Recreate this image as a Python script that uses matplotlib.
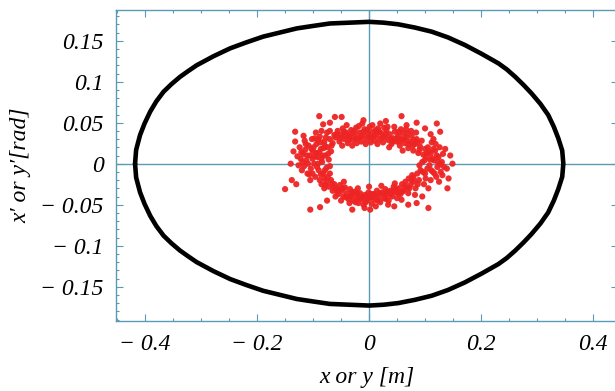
import matplotlib
matplotlib.use("Agg")
import matplotlib.pyplot as plt
from matplotlib.ticker import FixedLocator, FixedFormatter, MultipleLocator

# ---- data ----
ell_x = [-0.418, -0.416, -0.409, -0.401, -0.391, -0.380, -0.367, -0.353, -0.3375, -0.323, -0.308, -0.278,
         -0.248, -0.219, -0.189, -0.159, -0.129, -0.100, -0.070, -0.035, 0.000, 0.026, 0.052, 0.082,
         0.112, 0.141, 0.171, 0.201, 0.231, 0.246, 0.261, 0.276, 0.290, 0.306, 0.320, 0.330, 0.338,
         0.345, 0.347,
         0.345, 0.338, 0.330, 0.320, 0.306, 0.290, 0.276, 0.261, 0.246, 0.231, 0.201, 0.171, 0.141,
         0.112, 0.082, 0.052, 0.026, 0.000, -0.035, -0.070, -0.100, -0.129, -0.159, -0.189, -0.219,
         -0.248, -0.278, -0.308, -0.323, -0.3375, -0.353, -0.367, -0.380, -0.391, -0.401, -0.409,
         -0.416, -0.418]
ell_y = [0.000, 0.017, 0.035, 0.049, 0.0634, 0.076, 0.0878, 0.097, 0.106, 0.113, 0.120, 0.131,
         0.1407, 0.148, 0.155, 0.160, 0.165, 0.168, 0.171, 0.172, 0.173, 0.172, 0.170, 0.166,
         0.161, 0.154, 0.1448, 0.134, 0.1224, 0.115, 0.106, 0.096, 0.0859, 0.073, 0.0594, 0.045, 0.031,
         0.016, 0.000,
         -0.016, -0.031, -0.045, -0.0594, -0.073, -0.0859, -0.096, -0.106, -0.115, -0.1224, -0.134, -0.1448, -0.154,
         -0.161, -0.166, -0.170, -0.172, -0.173, -0.172, -0.171, -0.168, -0.165, -0.160, -0.155, -0.148,
         -0.1407, -0.131, -0.120, -0.113, -0.106, -0.097, -0.0878, -0.076, -0.0634, -0.049, -0.035,
         -0.017, 0.000]

red_pts = [
    # top band
    (-0.060, 0.032), (-0.056, 0.040), (-0.053, 0.027), (-0.050, 0.035), (-0.047, 0.043), (-0.044, 0.030),
    (-0.041, 0.038), (-0.038, 0.025), (-0.035, 0.033), (-0.032, 0.041), (-0.029, 0.029), (-0.026, 0.036),
    (-0.023, 0.044), (-0.020, 0.031), (-0.017, 0.038), (-0.014, 0.027), (-0.011, 0.034), (-0.008, 0.042),
    (-0.005, 0.030), (-0.002, 0.037), (0.001, 0.045), (0.004, 0.032), (0.007, 0.039), (0.010, 0.028),
    (0.013, 0.035), (0.016, 0.043), (0.019, 0.030), (0.022, 0.037), (0.025, 0.026), (0.028, 0.033),
    (0.031, 0.041), (0.034, 0.029), (0.037, 0.036), (0.040, 0.024), (0.043, 0.031), (0.046, 0.039),
    (0.049, 0.027), (0.052, 0.034), (0.055, 0.022), (0.058, 0.030), (0.061, 0.037), (0.064, 0.025),
    (0.067, 0.032), (0.070, 0.019), (0.073, 0.027), (0.076, 0.034), (0.079, 0.016), (0.082, 0.024),
    (0.085, 0.030), (0.088, 0.013), (0.091, 0.021), (0.094, 0.028), (0.097, 0.011), (0.100, 0.018),
    (-0.048, 0.022), (-0.040, 0.047), (-0.030, 0.022), (-0.018, 0.046), (-0.006, 0.024), (0.006, 0.047),
    (0.015, 0.024), (0.027, 0.044), (0.036, 0.020), (0.045, 0.045), (0.057, 0.042), (0.066, 0.042),
    (0.075, 0.040), (0.084, 0.038), (0.060, 0.016), (0.003, 0.026), (-0.022, 0.025), (-0.012, 0.049),
    (0.020, 0.049),
    (-0.058, 0.036), (-0.045, 0.039), (-0.036, 0.029), (-0.027, 0.040), (-0.015, 0.033), (-0.003, 0.041),
    (0.009, 0.034), (0.018, 0.039), (0.030, 0.036), (0.039, 0.030), (0.050, 0.031), (0.063, 0.030),
    (0.071, 0.024), (0.080, 0.029), (0.090, 0.017), (0.053, 0.039), (-0.052, 0.031), (-0.033, 0.036),
    (-0.043, 0.034), (-0.024, 0.031), (-0.010, 0.039), (0.000, 0.033), (0.012, 0.041), (0.024, 0.032),
    (0.033, 0.045), (0.042, 0.027), (0.054, 0.027), (0.068, 0.037), (0.078, 0.022), (0.087, 0.026),
    # isolated top
    (-0.089, 0.058), (-0.061, 0.057), (-0.082, 0.048), (-0.049, 0.057), (0.058, 0.058), (0.067, 0.047),
    (0.085, 0.050), (0.121, 0.049), (0.127, 0.039), (0.100, 0.043), (-0.132, 0.039), (-0.117, 0.034),
    (0.110, 0.036), (-0.070, 0.050), (-0.010, 0.053), (0.030, 0.052),
    # left band
    (-0.065, 0.025), (-0.068, 0.015), (-0.070, 0.030), (-0.072, 0.005), (-0.074, 0.020), (-0.076, -0.005),
    (-0.078, 0.010), (-0.080, 0.027), (-0.082, -0.012), (-0.084, 0.002), (-0.086, 0.018), (-0.088, 0.033),
    (-0.090, -0.008), (-0.092, 0.008), (-0.094, 0.024), (-0.096, -0.016), (-0.098, 0.000), (-0.100, 0.015),
    (-0.102, 0.030), (-0.104, -0.006), (-0.106, 0.010), (-0.108, 0.022), (-0.110, -0.012), (-0.112, 0.004),
    (-0.114, 0.017), (-0.116, -0.003), (-0.118, 0.012), (-0.120, -0.008), (-0.122, 0.006), (-0.124, 0.020),
    (-0.126, -0.002), (-0.128, 0.009), (-0.115, 0.028), (-0.105, -0.020), (-0.095, 0.038), (-0.085, 0.040),
    (-0.075, 0.038), (-0.088, -0.020), (-0.080, -0.018), (-0.099, 0.020), (-0.109, 0.000), (-0.094, 0.013),
    (-0.083, 0.010), (-0.070, 0.040), (-0.062, 0.035),
    (-0.077, 0.032), (-0.081, 0.019), (-0.087, 0.026), (-0.091, 0.000), (-0.097, 0.031), (-0.101, 0.006),
    (-0.107, -0.013), (-0.113, 0.024), (-0.119, 0.002), (-0.079, -0.008), (-0.073, 0.012), (-0.089, 0.014),
    (-0.093, -0.004), (-0.097, 0.009), (-0.103, 0.018), (-0.111, 0.010), (-0.085, 0.006), (-0.079, 0.022),
    (-0.067, 0.022), (-0.091, 0.029), (-0.101, -0.012), (-0.121, 0.014), (-0.086, -0.013), (-0.070, -0.003),
    # isolated left
    (-0.135, 0.015), (-0.150, -0.031), (-0.138, -0.020), (-0.140, 0.000), (-0.130, -0.025), (-0.132, 0.027),
    # bottom band
    (-0.085, -0.025), (-0.080, -0.030), (-0.076, -0.022), (-0.072, -0.028), (-0.068, -0.020), (-0.065, -0.033),
    (-0.062, -0.025), (-0.058, -0.030), (-0.055, -0.037), (-0.052, -0.026), (-0.049, -0.033), (-0.046, -0.040),
    (-0.043, -0.029), (-0.040, -0.036), (-0.037, -0.043), (-0.034, -0.031), (-0.031, -0.038), (-0.028, -0.045),
    (-0.025, -0.034), (-0.022, -0.041), (-0.019, -0.048), (-0.016, -0.036), (-0.013, -0.043), (-0.010, -0.050),
    (-0.007, -0.038), (-0.004, -0.045), (-0.001, -0.035), (0.002, -0.042), (0.005, -0.049), (0.008, -0.037),
    (0.011, -0.044), (0.014, -0.033), (0.017, -0.040), (0.020, -0.047), (0.023, -0.035), (0.026, -0.042),
    (0.029, -0.031), (0.032, -0.038), (0.035, -0.045), (0.038, -0.033), (0.041, -0.040), (0.044, -0.028),
    (0.047, -0.035), (0.050, -0.042), (0.053, -0.030), (0.056, -0.037), (0.059, -0.025), (0.062, -0.032),
    (0.065, -0.022), (0.068, -0.029), (0.071, -0.018), (0.074, -0.026), (0.077, -0.014), (0.080, -0.022),
    (0.083, -0.030), (0.086, -0.012), (0.089, -0.020), (0.092, -0.008),
    (-0.060, -0.040), (-0.045, -0.022), (-0.035, -0.048), (-0.020, -0.030), (-0.008, -0.054), (0.000, -0.028),
    (0.012, -0.052), (0.022, -0.027), (0.034, -0.050), (0.046, -0.024), (0.058, -0.044), (0.070, -0.036),
    (0.082, -0.038), (-0.070, -0.012), (-0.050, -0.045),
    (-0.074, -0.016), (-0.063, -0.029), (-0.054, -0.032), (-0.041, -0.041), (-0.030, -0.035), (-0.017, -0.042),
    (-0.006, -0.047), (0.006, -0.041), (0.016, -0.045), (0.027, -0.037), (0.039, -0.037), (0.052, -0.036),
    (0.064, -0.027), (0.076, -0.020), (0.087, -0.025), (-0.024, -0.047), (0.030, -0.043), (0.043, -0.033),
    (-0.078, -0.026), (-0.057, -0.034), (-0.047, -0.030), (-0.033, -0.040), (-0.021, -0.037), (-0.011, -0.040),
    (-0.002, -0.040), (0.010, -0.039), (0.019, -0.036), (0.032, -0.034), (0.049, -0.031), (0.060, -0.034),
    (0.072, -0.030), (0.079, -0.017), (-0.066, -0.024), (0.004, -0.037),
    # isolated bottom
    (-0.105, -0.056), (-0.0875, -0.053), (0.002, -0.056), (0.106, -0.054), (0.085, -0.048), (0.095, -0.040),
    (0.070, -0.050), (0.140, -0.030), (-0.030, -0.056), (-0.075, -0.045), (0.045, -0.052),
    # right band
    (0.102, 0.008), (0.105, 0.020), (0.108, -0.002), (0.110, 0.012), (0.112, 0.026), (0.114, -0.010),
    (0.116, 0.004), (0.118, 0.016), (0.120, -0.016), (0.122, -0.004), (0.124, 0.008), (0.126, 0.020),
    (0.128, -0.010), (0.130, 0.002), (0.132, 0.012), (0.134, -0.004), (0.110, -0.020), (0.100, -0.012),
    (0.095, 0.002), (0.098, -0.025), (0.115, 0.030), (0.125, -0.022), (0.106, -0.030), (0.090, -0.002),
    (0.136, 0.018),
    (0.104, -0.006), (0.113, 0.006), (0.119, 0.024), (0.121, 0.010), (0.127, -0.001), (0.117, -0.012),
    (0.107, 0.015), (0.099, 0.004), (0.131, -0.014), (0.096, -0.010),
    (0.103, 0.013), (0.109, 0.005), (0.111, -0.008), (0.115, 0.018), (0.123, 0.002), (0.101, -0.018),
    # isolated right
    (0.149, 0.000), (0.139, -0.006), (0.142, -0.018), (0.145, 0.010),
]
red_x = [p[0] for p in red_pts]
red_y = [p[1] for p in red_pts]

x_ticks = [-0.4, -0.2, 0.0, 0.2, 0.4]
x_labels = ["\u2212 0.4", "\u2212 0.2", "0", "0.2", "0.4"]
y_ticks = [-0.15, -0.1, -0.05, 0.0, 0.05, 0.1, 0.15]
y_labels = ["\u2212 0.15", "\u2212 0.1", "\u2212 0.05", "0", "0.05", "0.1", "0.15"]

# ---- figure ----
W, H = 615, 391
fig = plt.figure(figsize=(W / 100, H / 100), dpi=100)
L, R, B, T = 116, 618, 321, 10
ax = fig.add_axes([L / W, (H - B) / H, (R - L) / W, (B - T) / H])

axis_col = "#5b9ab5"
fs = 17
font = dict(family="Liberation Serif", style="italic", size=fs)

ax.axhline(0, color=axis_col, lw=1.0, zorder=1)
ax.axvline(0, color=axis_col, lw=1.0, zorder=1)

ax.plot(ell_x, ell_y, color="black", lw=3.3, solid_joinstyle="round", solid_capstyle="round", zorder=2)
ax.scatter(red_x, red_y, s=20, color="#ee2424", edgecolors="none", alpha=0.95, zorder=3)

ax.set_xlim(-0.452, (R - 369) / 560)
ax.set_ylim(-(B - 163.7) / 820, (163.7 - T) / 820)

ax.xaxis.set_major_locator(FixedLocator(x_ticks))
ax.xaxis.set_major_formatter(FixedFormatter(x_labels))
ax.xaxis.set_minor_locator(MultipleLocator(0.05))
ax.yaxis.set_major_locator(FixedLocator(y_ticks))
ax.yaxis.set_major_formatter(FixedFormatter(y_labels))
ax.yaxis.set_minor_locator(MultipleLocator(0.01))

ax.tick_params(which="both", direction="in", top=True, right=True, color=axis_col, width=0.8)
ax.tick_params(which="major", length=5)
ax.tick_params(which="minor", length=2.5)
ax.tick_params(axis="y", which="major", pad=9)
ax.tick_params(axis="x", which="major", pad=9)
for lab in ax.get_xticklabels() + ax.get_yticklabels():
    lab.set_fontfamily("Liberation Serif")
    lab.set_fontstyle("italic")
    lab.set_fontsize(fs)

for s in ax.spines.values():
    s.set_color(axis_col)
    s.set_linewidth(1.0)

fig.text(367 / W, 1 - 378 / H, "x or y [m]", ha="center", va="center", **font)
fig.text(21 / W, 1 - 165 / H, "x\u2032 or y\u2032[rad]", ha="center", va="center", rotation=90, **font)

fig.savefig("out.png", dpi=100)
